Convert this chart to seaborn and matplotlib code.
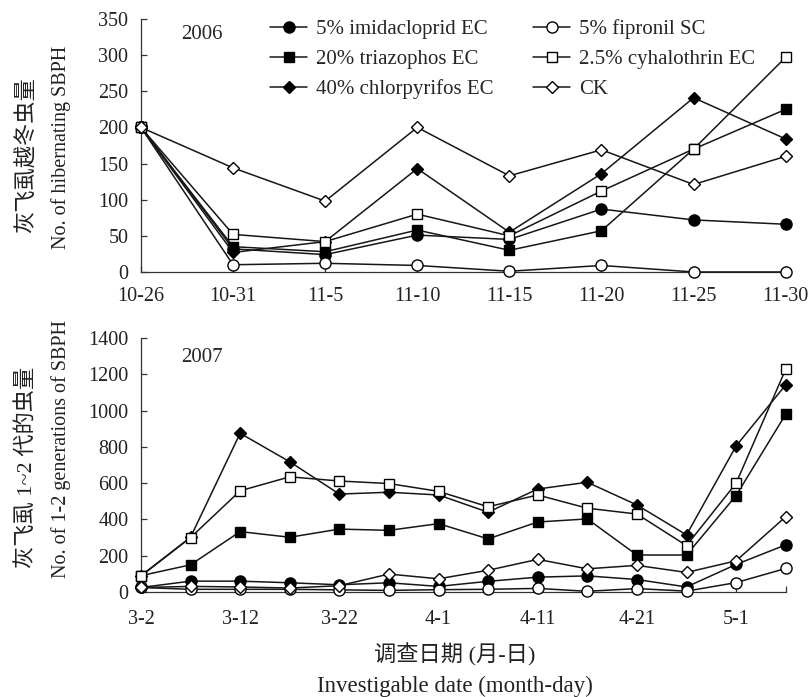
import matplotlib
matplotlib.use('Agg')
import pandas as pd
import matplotlib.pyplot as plt
import seaborn as sns

# ---- data ----
treatments = ['5% imidacloprid EC', '20% triazophos EC', '40% chlorpyrifos EC',
              '5% fipronil SC', '2.5% cyhalothrin EC', 'CK']

dates_2006 = ['10-26', '10-31', '11-5', '11-10', '11-15', '11-20', '11-25', '11-30']
imidacloprid_2006 = [200, 32, 24, 51, 45, 87, 72, 66]
triazophos_2006 = [200, 35, 28, 58, 30, 57, 170, 225]
chlorpyrifos_2006 = [200, 27, 42, 143, 55, 136, 241, 184]
fipronil_2006 = [200, 10, 12, 9, 1, 9, 0, 0]
cyhalothrin_2006 = [200, 52, 42, 80, 50, 112, 170, 297]
ck_2006 = [200, 144, 98, 200, 133, 169, 121, 160]

dates_2007 = ['3-2', '3-7', '3-12', '3-17', '3-22', '3-27', '4-1',
              '4-6', '4-11', '4-16', '4-21', '4-26', '5-1', '5-6']
imidacloprid_2007 = [25, 60, 60, 51, 40, 51, 31, 59, 82, 89, 69, 28, 152, 260]
triazophos_2007 = [90, 150, 333, 302, 347, 340, 377, 293, 386, 403, 204, 204, 532, 980]
chlorpyrifos_2007 = [90, 302, 875, 718, 540, 550, 535, 440, 568, 605, 480, 315, 805, 1142]
fipronil_2007 = [25, 15, 15, 15, 12, 9, 13, 15, 20, 4, 19, 5, 52, 130]
cyhalothrin_2007 = [88, 300, 558, 635, 612, 598, 555, 470, 535, 462, 430, 256, 600, 1228]
ck_2007 = [25, 31, 28, 22, 35, 99, 73, 120, 180, 128, 147, 108, 172, 415]


def long_table(dates, series):
    rows = []
    for name, vals in zip(treatments, series):
        for i, v in enumerate(vals):
            rows.append({'idx': i, 'date': dates[i], 'treatment': name, 'count': v})
    return pd.DataFrame(rows)


df06 = long_table(dates_2006, [imidacloprid_2006, triazophos_2006, chlorpyrifos_2006,
                               fipronil_2006, cyhalothrin_2006, ck_2006])
df07 = long_table(dates_2007, [imidacloprid_2007, triazophos_2007, chlorpyrifos_2007,
                               fipronil_2007, cyhalothrin_2007, ck_2007])

# marker, face colour, marker size
styles = {
    '5% imidacloprid EC': ('o', 'black', 8),
    '20% triazophos EC': ('s', 'black', 7.5),
    '40% chlorpyrifos EC': ('D', 'black', 6),
    '5% fipronil SC': ('o', 'white', 8),
    '2.5% cyhalothrin EC': ('s', 'white', 7.5),
    'CK': ('D', 'white', 6),
}

sns.set_style('ticks')
plt.rcParams['font.family'] = ['Liberation Serif', 'Noto Sans CJK SC']
plt.rcParams['axes.unicode_minus'] = False

fig = plt.figure(figsize=(8.1, 6.97), dpi=100)
ax1 = fig.add_axes([0.174, 0.6098, 0.796, 0.363])
ax2 = fig.add_axes([0.174, 0.1506, 0.796, 0.3644])

line_col = '#161616'
for ax, df, label in [(ax1, df06, True), (ax2, df07, False)]:
    for t in treatments:
        m, fc, ms = styles[t]
        sns.lineplot(data=df[df['treatment'] == t], x='idx', y='count', ax=ax,
                     color=line_col, linewidth=1.1, marker=m, markersize=ms,
                     markerfacecolor=fc, markeredgecolor='black', markeredgewidth=1.0,
                     clip_on=False, label=t if label else None, legend=False, zorder=3)

# top panel
ax1.set_xlim(0, len(dates_2006) - 1)
ax1.set_ylim(0, 350)
ax1.set_xticks(range(len(dates_2006)))
ax1.set_xticklabels(dates_2006)
ax1.set_yticks(range(0, 351, 50))
ax1.text(0.063, 0.94, '2006', transform=ax1.transAxes, fontsize=15, ha='left', va='center')

# bottom panel
ax2.set_xlim(0, len(dates_2007) - 1)
ax2.set_ylim(0, 1400)
ax2.set_xticks(list(range(0, len(dates_2007), 2)) + [len(dates_2007) - 1])
ax2.set_xticklabels(dates_2007[::2] + [''])
ax2.set_yticks(range(0, 1401, 200))
ax2.text(0.063, 0.925, '2007', transform=ax2.transAxes, fontsize=15, ha='left', va='center')

for ax in (ax1, ax2):
    ax.set_xlabel('')
    ax.set_ylabel('')
    sns.despine(ax=ax)
    for s in ('left', 'bottom'):
        ax.spines[s].set_linewidth(0.9)
        ax.spines[s].set_color('#333333')
    ax.tick_params(axis='both', direction='in', length=4, width=0.9,
                   labelsize=14.5, colors='#333333', labelcolor='#222222')
    ax.tick_params(axis='y', pad=9)
ax1.tick_params(axis='x', pad=11)
ax2.tick_params(axis='x', pad=13)

ax1.legend(ncol=2, loc='upper left', bbox_to_anchor=(0.2, 1.0), frameon=False,
           fontsize=15, handlelength=1.8, handletextpad=0.4, columnspacing=1.9,
           labelspacing=0.5, borderpad=0, borderaxespad=0)

# axis titles
fig.text(27 / 810, 1 - 155 / 697, '灰飞虱越冬虫量', rotation=90, ha='center', va='center',
         fontsize=16, color='#222222')
fig.text(61 / 810, 1 - 147 / 697, 'No. of hibernating SBPH', rotation=90, ha='center',
         va='center', fontsize=14.5, color='#222222')
fig.text(27 / 810, 1 - 467 / 697, '灰飞虱 1~2 代的虫量', rotation=90, ha='center', va='center',
         fontsize=16, color='#222222')
fig.text(61 / 810, 1 - 449 / 697, 'No. of 1-2 generations of SBPH', rotation=90, ha='center',
         va='center', fontsize=14.5, color='#222222')
fig.text(455 / 810, 1 - 655 / 697, '调查日期 (月-日)', ha='center', va='center',
         fontsize=16, color='#222222')
fig.text(455 / 810, 1 - 686 / 697, 'Investigable date (month-day)', ha='center', va='center',
         fontsize=16.5, color='#222222')

fig.savefig('out.png', dpi=100)
